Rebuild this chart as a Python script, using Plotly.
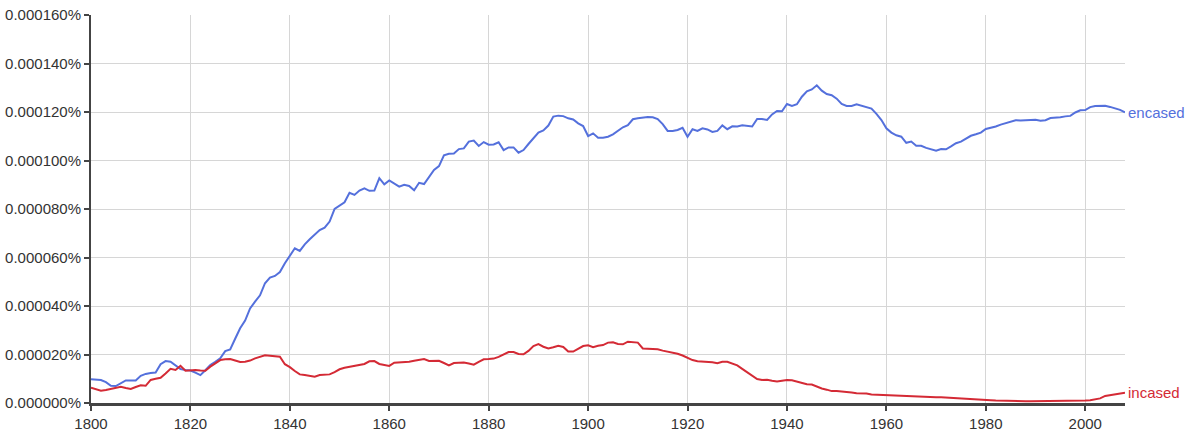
import plotly.graph_objects as go

years = list(range(1800, 2009))

# values in units of 1e-6 percent
encased = [
 9.8, 9.6, 9.5, 8.6, 7.1, 7.0, 8.0, 9.3, 9.3, 9.3,
 11.2, 12.0, 12.4, 12.6, 16.0, 17.3, 17.0, 15.3, 14.0, 13.6,
 13.4, 12.5, 11.5, 13.5, 15.7, 17.0, 18.4, 21.4, 22.1, 26.5,
 30.8, 34.0, 39.0, 41.8, 44.4, 49.4, 51.7, 52.4, 54.0, 57.6,
 60.8, 63.8, 62.7, 65.4, 67.5, 69.2, 71.3, 72.3, 74.8, 80.0,
 81.3, 82.8, 86.7, 85.8, 87.6, 88.5, 87.5, 87.6, 92.7, 90.2,
 91.8, 90.5, 89.2, 90.0, 89.5, 87.7, 90.8, 90.3, 93.2, 96.1,
 97.7, 102.1, 102.8, 102.9, 104.7, 105.0, 107.8, 108.2, 106.0, 107.6,
 106.5, 106.6, 107.5, 104.3, 105.4, 105.4, 103.2, 104.3, 106.8, 109.0,
 111.5, 112.4, 114.4, 118.1, 118.5, 118.3, 117.4, 116.9, 115.3, 114.2,
 110.1, 111.2, 109.4, 109.4, 109.8, 110.8, 112.3, 113.7, 114.6, 117.0,
 117.4, 117.8, 117.9, 117.8, 117.1, 115.0, 112.2, 112.2, 112.6, 113.5,
 109.8, 112.9, 112.2, 113.3, 112.8, 111.8, 112.2, 114.5, 112.9, 114.1,
 114.0, 114.5, 114.4, 114.0, 117.1, 117.1, 116.7, 119.0, 120.4, 120.3,
 123.3, 122.5, 123.2, 126.3, 128.5, 129.3, 131.0, 128.8, 127.4, 126.9,
 125.5, 123.3, 122.5, 122.5, 123.2, 122.5, 122.1, 121.4, 119.2, 116.7,
 113.3, 111.5, 110.4, 109.8, 107.3, 107.8, 106.1, 106.1, 105.2, 104.6,
 104.0, 104.7, 104.6, 105.8, 107.1, 107.8, 109.0, 110.2, 110.8, 111.5,
 113.0, 113.4, 114.0, 114.8, 115.5, 116.0, 116.6, 116.5, 116.6, 116.7,
 116.8, 116.4, 116.6, 117.5, 117.5, 117.8, 118.2, 118.4, 119.8, 120.7,
 120.8, 122.0, 122.5, 122.6, 122.6, 122.1, 121.5, 120.9, 119.9,
]

incased = [
 6.3, 5.6, 5.1, 5.4, 5.8, 6.2, 6.7, 6.2, 5.8, 6.6,
 7.3, 7.1, 9.5, 10.0, 10.4, 12.2, 14.1, 13.6, 15.3, 13.3,
 13.5, 13.6, 13.4, 13.3, 15.0, 16.3, 17.7, 18.0, 18.1, 17.5,
 16.9, 17.0, 17.5, 18.4, 19.2, 19.7, 19.5, 19.3, 19.1, 16.0,
 14.8, 13.2, 11.8, 11.5, 11.2, 10.8, 11.5, 11.5, 11.8, 12.7,
 13.9, 14.5, 14.9, 15.1, 15.5, 16.1, 17.2, 17.3, 16.1, 15.6,
 15.3, 16.6, 16.7, 16.7, 17.0, 17.4, 17.6, 18.1, 17.3, 17.4,
 17.4, 16.5, 15.5, 16.5, 16.7, 16.7, 16.3, 15.8, 17.0, 18.0,
 18.1, 18.3, 19.0, 20.0, 21.0, 21.0, 20.2, 20.1, 21.5, 23.5,
 24.3, 23.2, 22.5, 23.0, 23.6, 23.1, 21.2, 21.2, 22.2, 23.5,
 23.8, 23.0, 23.6, 23.9, 24.9, 25.0, 24.3, 24.2, 25.3, 25.0,
 24.9, 22.5, 22.5, 22.5, 22.2, 21.6, 21.2, 20.9, 20.3, 19.6,
 18.6, 17.7, 17.2, 17.1, 17.1, 16.8, 16.4, 17.0, 17.0, 16.2,
 15.5, 14.1, 12.8, 11.5, 9.9, 9.5, 9.6, 9.2, 8.9, 9.2,
 9.5, 9.4, 8.8, 8.2, 7.7, 7.6, 6.7, 6.0, 5.5, 4.9,
 4.9, 4.8, 4.6, 4.3, 4.0, 4.0, 3.9, 3.5, 3.4, 3.4,
 3.4, 3.2, 3.1, 3.0, 2.9, 2.8, 2.7, 2.6, 2.5, 2.5,
 2.4, 2.4, 2.3, 2.2, 2.1, 1.9, 1.8, 1.6, 1.5, 1.3,
 1.2, 1.1, 1.0, 0.9, 0.8, 0.8, 0.7, 0.7, 0.7, 0.7,
 0.7, 0.7, 0.7, 0.7, 0.7, 0.7, 0.7, 0.7, 0.8, 0.9,
 1.0, 1.1, 1.4, 1.9, 2.9, 3.3, 3.6, 4.0, 4.2,
]

series_names = ["encased", "incased"]
colors = ["#5470dc", "#d42a35"]
x_ticks = [1800, 1820, 1840, 1860, 1880, 1900, 1920, 1940, 1960, 1980, 2000]
y_ticks = [0, 0.00002, 0.00004, 0.00006, 0.00008, 0.00010, 0.00012, 0.00014, 0.00016]

FONT = "Liberation Sans, Arial, Helvetica, sans-serif"

fig = go.Figure()
for name, vals, col in zip(series_names, [encased, incased], colors):
    yv = [v * 1e-6 for v in vals]
    fig.add_trace(go.Scatter(x=years, y=yv, mode="lines", name=name,
                             line=dict(color=col, width=2), hoverinfo="skip"))
    fig.add_annotation(x=years[-1], y=yv[-1], xref="x", yref="y", text=name,
                       showarrow=False, xanchor="left", xshift=1,
                       font=dict(color=col, size=15, family=FONT))

fig.update_layout(
    width=1190, height=433,
    margin=dict(l=91, r=65, t=15, b=30, autoexpand=False),
    plot_bgcolor="white", paper_bgcolor="white",
    showlegend=False,
    font=dict(family=FONT, size=15, color="#333333"),
)
fig.update_xaxes(range=[1800, 2008], tickvals=x_ticks, ticktext=[str(t) for t in x_ticks],
                 automargin=False,
                 showgrid=True, gridcolor="#d6d6d6", gridwidth=1,
                 showline=True, linecolor="#444444", linewidth=3,
                 ticks="outside", ticklen=5, tickwidth=2, tickcolor="#444444",
                 zeroline=False, tickfont=dict(size=15, color="#333333"))
fig.update_yaxes(range=[0, 0.00016], tickvals=y_ticks,
                 ticktext=["%.6f%%" % (t) for t in y_ticks],
                 automargin=False,
                 showgrid=True, gridcolor="#d6d6d6", gridwidth=1,
                 showline=True, linecolor="#444444", linewidth=2,
                 ticks="outside", ticklen=5, tickwidth=2, tickcolor="#444444",
                 zeroline=False, tickfont=dict(size=15, color="#333333"))

fig.write_html("out.html", config={"displayModeBar": False},
               post_script="document.body.style.margin='0';document.body.style.overflow='hidden';")
